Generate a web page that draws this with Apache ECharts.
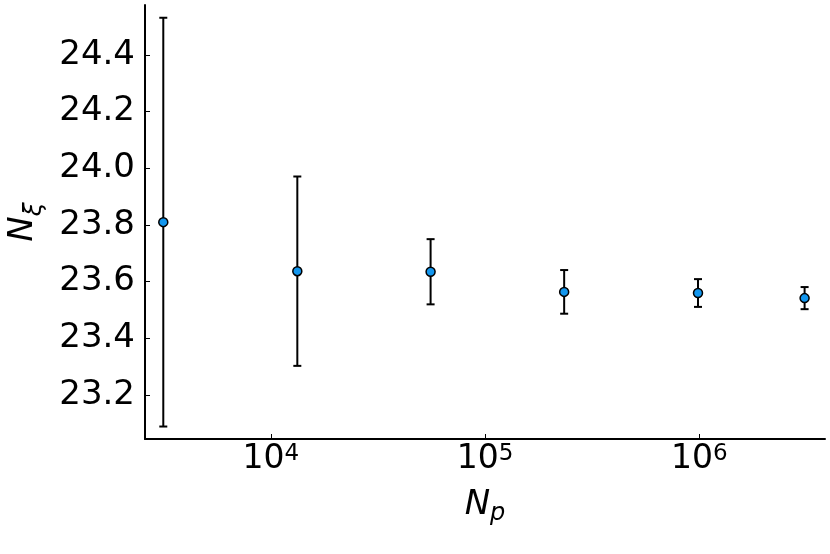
<!DOCTYPE html>
<html>
<head>
<meta charset="utf-8">
<script src="https://cdn.jsdelivr.net/npm/echarts@6/dist/echarts.min.js"></script>
<style>html,body{margin:0;padding:0;background:#fff}#chart{width:830px;height:554px}</style>
</head>
<body>
<div id="chart"></div>
<script>
// Data
const Np = [3150, 13300, 55700, 234000, 986000, 3100000];
const Nxi = [23.810, 23.637, 23.635, 23.564, 23.560, 23.542];
const Nxi_err = [0.721, 0.334, 0.115, 0.077, 0.049, 0.039];
const yTicks = [23.2, 23.4, 23.6, 23.8, 24.0, 24.2, 24.4];
const xRange = [2588, 3860000];
const yRange = [23.045, 24.576];

const font = 'DejaVu Sans';
const chart = echarts.init(document.getElementById('chart'));

const errData = Np.map((x, i) => [x, Nxi[i], Nxi_err[i]]);
const ptData = Np.map((x, i) => [x, Nxi[i]]);

const xTitleRich = {
  n: { fontFamily: font, fontStyle: 'italic', fontSize: 34, color: '#000', lineHeight: 34, padding: [0, 0, 4, 0], verticalAlign: 'bottom' },
  s: { fontFamily: font, fontStyle: 'italic', fontSize: 24, color: '#000', lineHeight: 24, verticalAlign: 'bottom' }
};
const yTitleRich = {
  n: { fontFamily: font, fontStyle: 'italic', fontSize: 34, color: '#000', lineHeight: 34, padding: [0, 0, 7, 0], verticalAlign: 'bottom' },
  s: { fontFamily: font, fontStyle: 'italic', fontSize: 25, color: '#000', lineHeight: 25, verticalAlign: 'bottom' }
};

chart.setOption({
  animation: false,
  grid: { left: 145, top: 5, right: 5, bottom: 115, containLabel: false, outerBoundsMode: 'none' },
  xAxis: {
    type: 'log',
    logBase: 10,
    min: xRange[0],
    max: xRange[1],
    splitLine: { show: false },
    minorTick: { show: false },
    axisLine: { onZero: false, lineStyle: { color: '#000', width: 2 } },
    axisTick: { inside: true, length: 5, lineStyle: { color: '#000', width: 1 } },
    axisLabel: {
      showMinLabel: false,
      showMaxLabel: false,
      margin: 4,
      formatter: function (v) {
        const e = Math.round(Math.log10(v));
        return '{b|10}{sup|' + e + '}';
      },
      rich: {
        b: { fontFamily: font, fontSize: 33, color: '#000', lineHeight: 33, padding: [4, 0, 0, 0], verticalAlign: 'bottom' },
        sup: { fontFamily: font, fontSize: 23, color: '#000', lineHeight: 23, verticalAlign: 'top' }
      }
    },
    name: '{n|N}{s|p}',
    nameLocation: 'middle',
    nameGap: 53,
    nameTextStyle: { rich: xTitleRich }
  },
  yAxis: {
    type: 'value',
    min: yRange[0],
    max: yRange[1],
    splitLine: { show: false },
    axisLine: { onZero: false, lineStyle: { color: '#000', width: 2 } },
    axisTick: { inside: true, length: 5, customValues: yTicks, lineStyle: { color: '#000', width: 1 } },
    axisLabel: {
      customValues: yTicks,
      margin: 10,
      fontFamily: font,
      fontSize: 34,
      color: '#000',
      formatter: v => v.toFixed(1)
    },
    name: '{n|N}{s|ξ}',
    nameLocation: 'middle',
    nameRotate: 90,
    nameGap: 98,
    nameTextStyle: { rich: yTitleRich }
  },
  series: [
    {
      type: 'custom',
      data: errData,
      clip: false,
      z: 2,
      renderItem: function (params, api) {
        const x = api.value(0), y = api.value(1), e = api.value(2);
        const top = api.coord([x, y + e]);
        const bot = api.coord([x, y - e]);
        const cw = 4;
        const st = { stroke: '#000', lineWidth: 2 };
        return {
          type: 'group',
          children: [
            { type: 'line', shape: { x1: top[0], y1: top[1], x2: bot[0], y2: bot[1] }, style: st },
            { type: 'line', shape: { x1: top[0] - cw, y1: top[1], x2: top[0] + cw, y2: top[1] }, style: st },
            { type: 'line', shape: { x1: bot[0] - cw, y1: bot[1], x2: bot[0] + cw, y2: bot[1] }, style: st }
          ]
        };
      }
    },
    {
      type: 'scatter',
      data: ptData,
      z: 3,
      symbol: 'circle',
      symbolSize: 9,
      itemStyle: { color: '#1296ee', borderColor: '#000', borderWidth: 1.5, opacity: 1 }
    }
  ]
});
</script>
</body>
</html>
